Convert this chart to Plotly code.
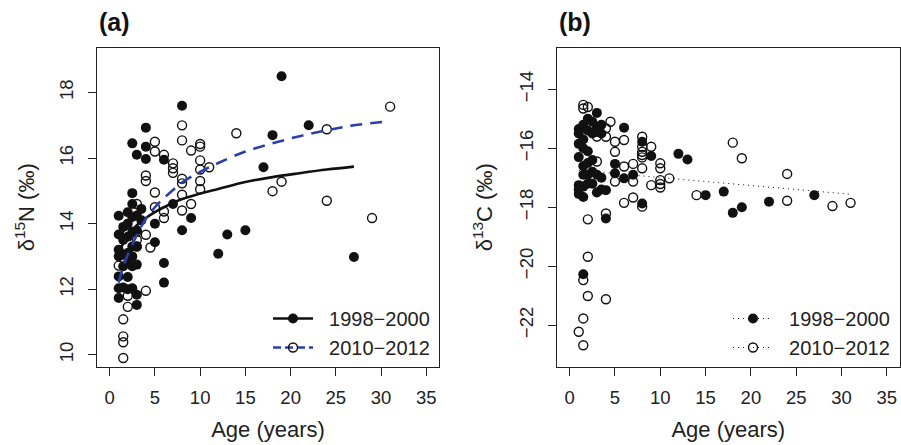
import plotly.graph_objects as go

# ---------------- data: panel (a) d15N ----------------
n98_age = [1, 1, 1, 1, 1, 1, 1,
           1.5, 1.5, 1.5, 1.5, 1.5,
           2, 2, 2, 2, 2, 2, 2,
           2.5, 2.5, 2.5, 2.5, 2.5, 2.5, 2.5, 2.5, 2.5,
           3, 3, 3, 3, 3, 3, 3,
           3.5, 3.5,
           4, 4, 4,
           5, 5,
           6, 6, 6,
           7, 8, 8, 9, 12, 13, 15, 17, 18, 19, 22, 27]
n98_val = [14.24, 13.67, 13.2, 13.0, 12.39, 12.03, 11.73,
           13.9, 13.5, 13.05, 12.7, 12.05,
           14.35, 14.0, 13.6, 13.1, 12.8, 12.37, 12.0,
           16.45, 14.93, 14.6, 14.2, 13.75, 13.3, 13.0, 12.7, 12.03,
           16.1, 14.25, 13.8, 13.3, 12.75, 11.83, 11.52,
           14.45, 14.1,
           16.93, 16.35, 15.97,
           14.0, 13.43,
           15.95, 12.8, 12.2,
           14.6, 17.6, 13.8, 14.17, 13.08, 13.67, 13.8, 15.72, 16.7, 18.5, 17.0, 12.98]

n10_age = [1, 1.5, 1.5, 1.5, 1.5, 2, 2, 2,
           3, 3, 3, 3,
           4, 4, 4, 4, 4.5,
           5, 5, 5, 5,
           6, 6, 6,
           7, 7, 7,
           8, 8, 8, 8, 8, 8,
           9, 9,
           10, 10, 10, 10, 10, 10,
           11, 14, 18, 19, 24, 24, 29, 31]
n10_val = [12.72, 11.08, 10.56, 10.38, 9.9, 11.8, 11.46, 13.7,
           14.6, 13.75, 13.5, 13.3,
           15.47, 15.3, 13.66, 11.95, 13.27,
           16.5, 16.2, 14.95, 14.5,
           16.1, 14.37, 14.17,
           15.84, 15.69, 15.55,
           17.0, 16.54, 15.37, 15.23, 14.88, 14.4,
           16.23, 14.6,
           16.43, 16.35, 15.93, 15.65, 15.3, 15.05,
           15.72, 16.76, 14.99, 15.28, 16.88, 14.7, 14.17, 17.57]

fit_n98_age = [1, 1.5, 2, 3, 4, 5, 6, 8, 10, 12, 15, 18, 21, 24, 27]
fit_n98_val = [13.1, 13.4, 13.6, 13.95, 14.17, 14.35, 14.5, 14.75, 14.92, 15.06, 15.27, 15.42, 15.54, 15.65, 15.74]
fit_n10_age = [1, 1.5, 2, 3, 4, 5, 6, 8, 10, 12, 15, 18, 21, 24, 27, 31]
fit_n10_val = [12.2, 12.7, 13.05, 13.65, 14.15, 14.5, 14.78, 15.25, 15.58, 15.85, 16.2, 16.45, 16.67, 16.85, 17.0, 17.13]

# ---------------- data: panel (b) d13C ----------------
c98_age = [1, 1, 1, 1, 1, 1, 1,
           1.5, 1.5, 1.5, 1.5, 1.5, 1.5, 1.5, 1.5,
           2, 2, 2, 2, 2, 2,
           2.5, 2.5, 2.5, 2.5, 2.5,
           3, 3, 3, 3, 3,
           3.5, 3.5, 3.5, 3.5,
           4, 4, 5, 5, 6, 6, 7, 8, 8, 9, 12, 13, 15, 17, 18, 19, 22, 27]
c98_val = [-15.35, -15.5, -15.85, -16.3, -17.25, -17.4, -17.55,
           -15.2, -15.7, -16.0, -16.6, -16.9, -17.3, -17.65, -20.27,
           -15.0, -15.4, -16.1, -16.5, -16.9, -17.2,
           -15.1, -15.5, -16.4, -16.8, -17.2,
           -14.8, -15.3, -15.45, -16.9, -17.5,
           -15.2, -15.5, -17.0, -17.4,
           -18.38, -17.42, -16.53, -16.85, -15.3, -17.02, -16.9, -15.78, -17.87, -16.26,
           -16.19, -16.38, -17.59, -17.47, -18.19, -18.0, -17.81, -17.59]

c10_age = [1, 1.5, 1.5, 1.5, 1.5, 1.5, 2, 2, 2, 2,
           3, 3,
           4, 4, 4, 4, 4.5,
           5, 5, 5,
           6, 6, 6,
           7, 7, 7,
           8, 8, 8, 8, 8, 8, 8,
           9, 9,
           10, 10, 10, 10, 10,
           11, 14, 18, 19, 24, 24, 29, 31]
c10_val = [-22.22, -14.53, -14.65, -20.47, -21.77, -22.68, -14.6, -18.41, -19.68, -21.01,
           -15.6, -16.45,
           -15.32, -15.61, -18.21, -21.12, -15.1,
           -15.78, -16.12, -17.13,
           -15.72, -16.62, -17.85,
           -16.53, -17.13, -17.67,
           -15.61, -15.95, -16.12, -16.23, -16.31, -16.68, -17.98,
           -15.95, -17.25,
           -16.51, -16.68, -17.08, -17.21, -17.33,
           -17.02, -17.59, -15.81, -16.34, -16.87, -17.78, -17.96, -17.85]

fit_c10_age = [1, 31]
fit_c10_val = [-16.75, -17.56]

labels = ["1998\u22122000", "2010\u22122012"]
x_ticks = [0, 5, 10, 15, 20, 25, 30, 35]

# ---------------- styling ----------------
FONT = "Liberation Sans, Arial, Helvetica, sans-serif"
BLACK = "#111111"
BLUE = "#2c3fa8"
PAD = "\u00a0\u00a0"
filled = dict(symbol="circle", size=10, color=BLACK, line=dict(width=0))
opened = dict(symbol="circle-open", size=9, color=BLACK, line=dict(width=1.4))

fig = go.Figure()

# panel a points and fits
fig.add_trace(go.Scatter(x=n98_age, y=n98_val, mode="markers", marker=filled,
                         showlegend=False, xaxis="x", yaxis="y", hoverinfo="skip"))
fig.add_trace(go.Scatter(x=n10_age, y=n10_val, mode="markers", marker=opened,
                         showlegend=False, xaxis="x", yaxis="y", hoverinfo="skip"))
fig.add_trace(go.Scatter(x=fit_n98_age, y=fit_n98_val, mode="lines", line=dict(color=BLACK, width=2.6, shape="spline"),
                         showlegend=False, xaxis="x", yaxis="y"))
fig.add_trace(go.Scatter(x=fit_n10_age, y=fit_n10_val, mode="lines",
                         line=dict(color=BLUE, width=2.6, dash="12px,8px", shape="spline"),
                         showlegend=False, xaxis="x", yaxis="y"))
# legend entries panel a
fig.add_trace(go.Scatter(x=[None], y=[None], mode="lines+markers", name=PAD + labels[0],
                         line=dict(color=BLACK, width=2.6), marker=filled, legend="legend",
                         xaxis="x", yaxis="y"))
fig.add_trace(go.Scatter(x=[None], y=[None], mode="lines+markers", name=PAD + labels[1],
                         line=dict(color=BLUE, width=2.6, dash="8px,4px"), marker=opened, legend="legend",
                         xaxis="x", yaxis="y"))

# panel b
fig.add_trace(go.Scatter(x=c98_age, y=c98_val, mode="markers", marker=filled,
                         showlegend=False, xaxis="x2", yaxis="y2", hoverinfo="skip"))
fig.add_trace(go.Scatter(x=c10_age, y=c10_val, mode="markers", marker=opened,
                         showlegend=False, xaxis="x2", yaxis="y2", hoverinfo="skip"))
fig.add_trace(go.Scatter(x=fit_c10_age, y=fit_c10_val, mode="lines",
                         line=dict(color=BLACK, width=1, dash="1px,4px"),
                         showlegend=False, xaxis="x2", yaxis="y2"))
fig.add_trace(go.Scatter(x=[None], y=[None], mode="lines+markers", name=PAD + labels[0],
                         line=dict(color=BLACK, width=1, dash="1px,4px"), marker=filled, legend="legend2",
                         xaxis="x2", yaxis="y2"))
fig.add_trace(go.Scatter(x=[None], y=[None], mode="lines+markers", name=PAD + labels[1],
                         line=dict(color=BLACK, width=1, dash="1px,4px"), marker=opened, legend="legend2",
                         xaxis="x2", yaxis="y2"))

W, H = 901, 445
ydom = [1 - 366.5 / H, 1 - 48 / H]

common_x = dict(range=[-1.4, 36.4], tickvals=x_ticks, ticks="outside", ticklen=8, tickwidth=1,
                tickcolor="#222", showline=True, linecolor="#222", linewidth=1.2, mirror=True,
                showgrid=False, zeroline=False, automargin=False,
                tickfont=dict(size=18.5, color="#222", family=FONT),
                ticklabelstandoff=6,
                title=dict(text="Age (years)", font=dict(size=22, color="#222", family=FONT), standoff=14))
common_y = dict(ticks="outside", ticklen=8, tickwidth=1, tickcolor="#222", showline=True, linecolor="#222",
                linewidth=1.2, mirror=True, showgrid=False, zeroline=False, automargin=False,
                tickangle=-90, tickfont=dict(size=18.5, color="#222", family=FONT),
                ticklabelstandoff=8)

fig.update_layout(
    width=W, height=H,
    margin=dict(l=0, r=0, t=0, b=0),
    paper_bgcolor="white", plot_bgcolor="white",
    font=dict(family=FONT, color="#222"),
    xaxis=dict(domain=[97 / W, 439 / W], anchor="y", **common_x),
    yaxis=dict(domain=ydom, anchor="x", range=[9.64, 19.36], tickvals=[10, 12, 14, 16, 18],
               title=dict(text="\u03b4<sup>15</sup>N (\u2030)", font=dict(size=22, family=FONT, color="#222"), standoff=14),
               **common_y),
    xaxis2=dict(domain=[557 / W, 899.5 / W], anchor="y2", **common_x),
    yaxis2=dict(domain=ydom, anchor="x2", range=[-23.4, -12.6], tickvals=[-22, -20, -18, -16, -14],
                title=dict(text="\u03b4<sup>13</sup>C (\u2030)", font=dict(size=22, family=FONT, color="#222"), standoff=16),
                **common_y),
    legend=dict(x=268 / W, y=1 - 299 / H, xanchor="left", yanchor="top", bgcolor="rgba(0,0,0,0)",
                font=dict(size=20, family=FONT, color="#222"), itemwidth=40, tracegroupgap=0),
    legend2=dict(x=728 / W, y=1 - 299 / H, xanchor="left", yanchor="top", bgcolor="rgba(0,0,0,0)",
                 font=dict(size=20, family=FONT, color="#222"), itemwidth=40, tracegroupgap=0),
    annotations=[
        dict(text="<b>(a)</b>", x=97 / W, y=1 - 22 / H, xref="paper", yref="paper", xanchor="left",
             yanchor="middle", showarrow=False, font=dict(size=25, family=FONT, color="#111")),
        dict(text="<b>(b)</b>", x=557 / W, y=1 - 22 / H, xref="paper", yref="paper", xanchor="left",
             yanchor="middle", showarrow=False, font=dict(size=25, family=FONT, color="#111")),
    ],
)

fig.write_html("out.html", config={"displayModeBar": False},
               post_script="document.body.style.margin='0';document.body.style.overflow='hidden';")
